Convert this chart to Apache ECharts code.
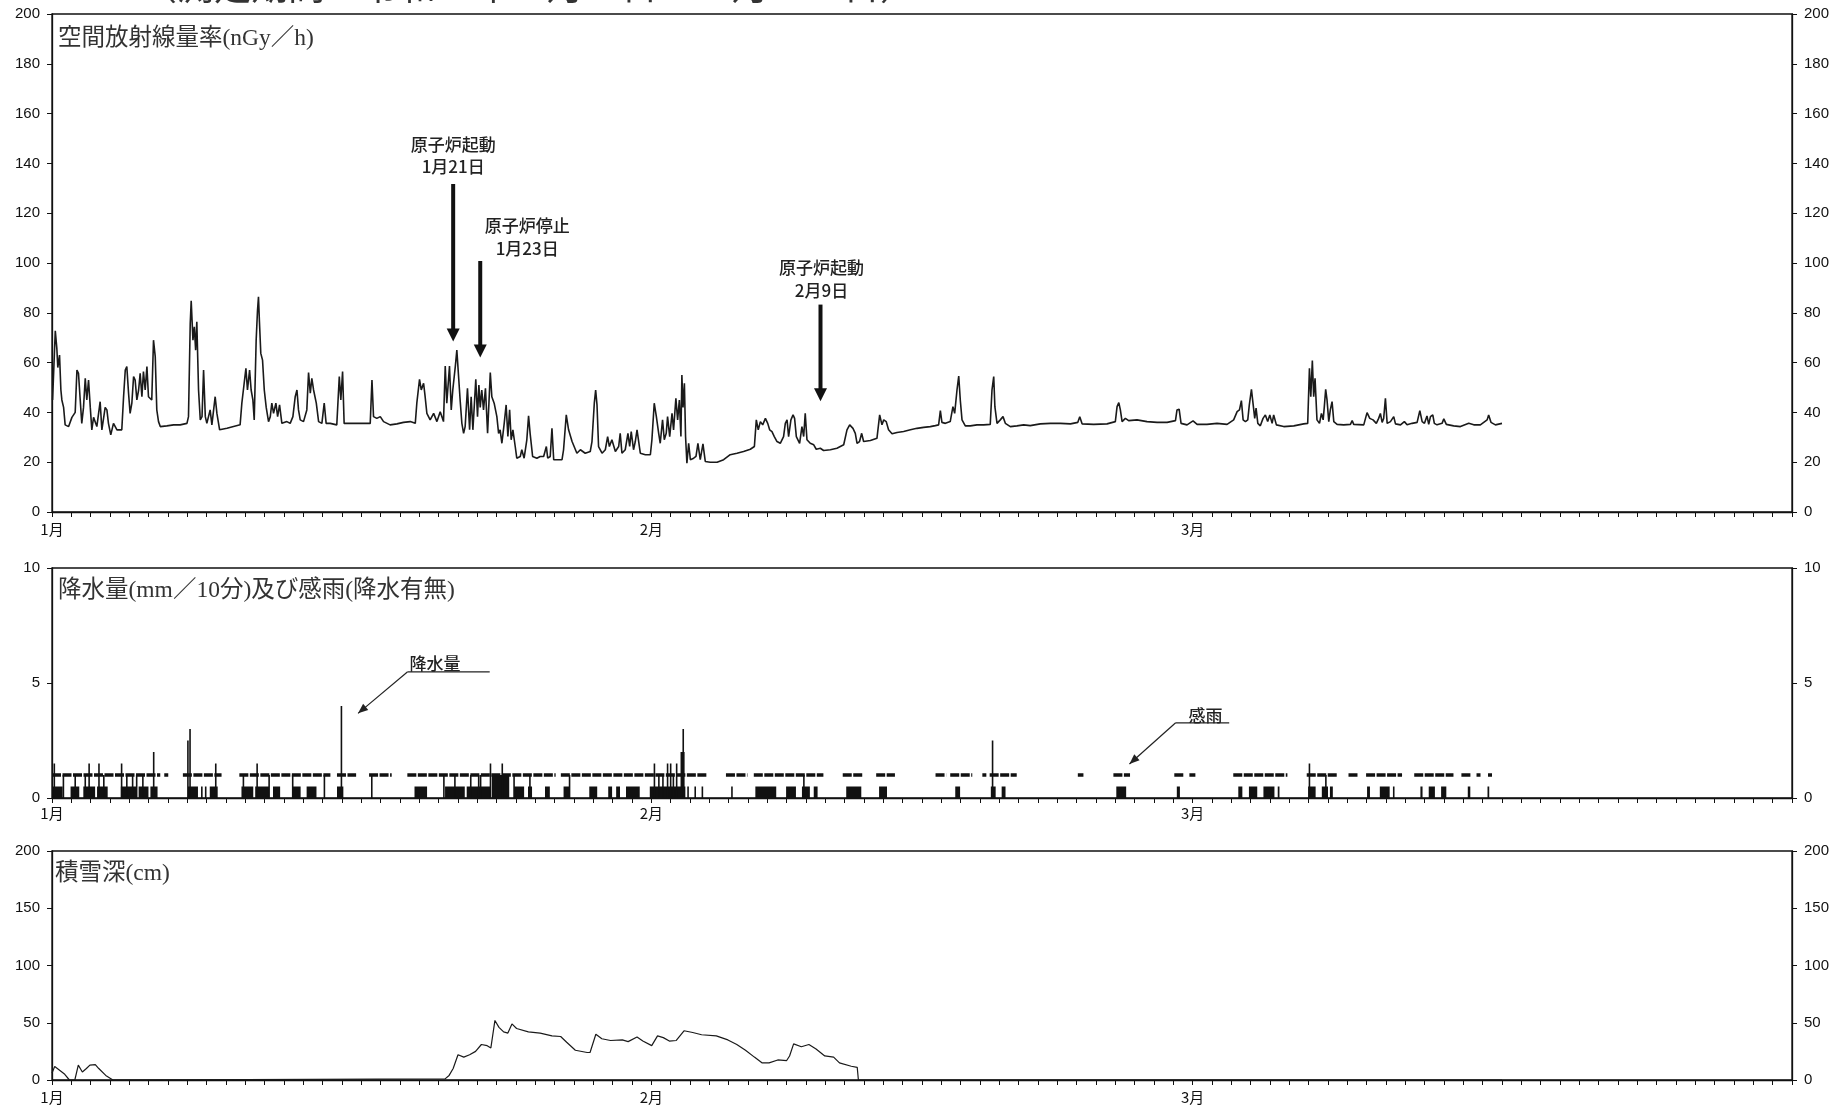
<!DOCTYPE html>
<html><head><meta charset="utf-8">
<script src="https://cdn.jsdelivr.net/npm/echarts@6/dist/echarts.min.js"></script>
<style>html,body{margin:0;padding:0;background:#fff;overflow:hidden}#c{width:1845px;height:1111px}</style>
</head><body><div id="c"></div>
<script>
// ---- axis / category info (days counted from 1月1日 0:00) ----
const monthTicks = [0, 31, 59];
const monthLabels = ['1月', '2月', '3月'];
const headerText = '（測定期間：令和６年１月１日～３月１６日）';

// ---- 空間放射線量率 (nGy/h) ----
const radDay = [0.03,0.17,0.25,0.30,0.39,0.46,0.51,0.60,0.68,0.86,1.03,1.20,1.29,1.37,1.46,1.54,1.63,1.72,1.80,1.89,1.98,2.06,2.15,2.32,2.49,2.58,2.75,2.84,2.92,3.04,3.18,3.36,3.61,3.70,3.79,3.87,3.96,4.04,4.13,4.22,4.30,4.39,4.48,4.56,4.65,4.73,4.82,4.91,4.99,5.16,5.25,5.34,5.42,5.51,5.60,5.94,6.29,6.63,6.98,7.06,7.15,7.20,7.29,7.36,7.43,7.49,7.58,7.67,7.76,7.84,7.93,8.01,8.18,8.27,8.44,8.53,8.67,9.05,9.39,9.73,9.82,9.94,10.03,10.11,10.22,10.30,10.39,10.46,10.56,10.63,10.68,10.73,10.80,10.89,10.98,11.08,11.20,11.29,11.37,11.46,11.58,11.67,11.77,11.89,12.15,12.32,12.46,12.58,12.67,12.75,12.84,13.01,13.18,13.27,13.36,13.44,13.53,13.67,13.79,13.96,14.08,14.18,14.39,14.73,14.86,14.94,15.03,15.11,15.42,15.94,16.46,16.55,16.63,16.80,16.98,17.15,17.49,17.84,18.18,18.53,18.79,18.87,19.01,19.10,19.22,19.30,19.39,19.56,19.74,19.91,20.08,20.25,20.34,20.42,20.56,20.65,20.73,20.86,20.94,21.03,21.11,21.20,21.29,21.37,21.49,21.60,21.68,21.77,21.86,21.92,22.01,22.08,22.15,22.23,22.32,22.42,22.53,22.67,22.75,22.87,23.01,23.10,23.18,23.27,23.39,23.49,23.58,23.67,23.75,23.84,23.96,24.04,24.22,24.30,24.42,24.56,24.65,24.73,24.86,25.08,25.25,
25.43,25.57,25.64,25.77,25.86,25.95,26.38,26.46,26.60,26.72,26.90,27.15,27.33,27.58,27.84,27.93,28.05,28.12,28.19,28.27,28.45,28.62,28.74,28.83,28.96,29.14,29.31,29.39,29.48,29.65,29.79,29.88,29.96,30.08,30.17,30.26,30.34,30.43,30.69,30.95,31.03,31.15,31.26,31.38,31.46,31.58,31.67,31.77,31.84,31.95,32.07,32.15,32.27,32.36,32.45,32.53,32.58,32.64,32.71,32.77,32.84,32.93,33.02,33.19,33.31,33.41,33.53,33.67,33.79,34.05,34.40,34.74,35.08,35.43,35.77,36.12,36.33,36.43,36.53,36.64,36.76,36.90,37.02,37.12,37.24,37.36,37.50,37.67,37.84,37.93,38.02,38.10,38.22,38.33,38.41,38.50,38.67,38.79,38.88,38.96,39.05,39.22,39.40,39.53,39.74,39.91,40.26,40.60,40.95,41.12,41.26,41.43,41.55,41.64,41.77,41.88,41.98,42.33,42.67,42.81,42.93,43.02,43.15,43.27,43.45,43.71,44.05,44.40,44.74,45.08,45.43,45.69,45.86,45.95,46.03,46.21,46.46,46.60,46.69,46.81,46.90,46.98,47.07,47.24,47.50,47.84,48.19,48.53,48.62,48.71,48.77,48.88,49.05,49.19,49.31,49.57,49.91,50.26,50.60,
51.12,51.64,52.16,52.68,53.06,53.16,53.28,53.88,54.57,55.00,55.09,55.18,55.26,55.35,55.52,55.69,56.12,56.64,57.16,57.68,58.11,58.19,58.30,58.40,58.71,59.02,59.23,59.74,60.26,60.78,61.12,61.30,61.42,61.52,61.61,61.73,61.85,61.93,62.04,62.12,62.21,62.28,62.37,62.50,62.64,62.76,62.88,62.99,63.11,63.19,63.33,63.71,64.23,64.74,64.95,65.04,65.11,65.19,65.26,65.33,65.43,65.56,65.66,65.75,65.81,65.88,65.95,66.04,66.12,66.21,66.30,66.47,66.81,67.16,67.25,67.33,67.85,68.02,68.16,68.33,68.50,68.62,68.71,68.80,68.88,68.97,69.06,69.23,69.40,69.49,69.75,69.95,70.09,70.35,70.61,70.75,70.87,70.99,71.12,71.21,71.30,71.42,71.50,71.64,71.90,71.99,72.12,72.50,72.85,73.28,73.54,73.88,74.23,74.31,74.43,74.66,75.00];
const radVal = [45,72.8,65.7,58,63,49,45,42,35,34.3,38,40,57,55.7,45,35.6,42,53.7,45,53,42,33,38,34.3,44.3,33,42,41,35.6,31,35.6,33,33,46,57,58.4,47.7,39.6,43.7,54.4,53,45,49,55.7,46.3,56.4,49,58.4,46.3,45,69,62.4,41,36.3,34.3,34.6,35,35,35.6,38.3,75.7,84.8,69,74.4,65,76.4,49,37,38.3,57,38.3,35.6,41,35,46.3,39.6,33,33.6,34.3,35,43.7,51.7,57.7,49,57,49,45,37,69,81,86.4,76.4,63.7,61,49,42,36.3,38.3,43.7,39.6,43.7,38.3,43,35.6,36.3,35.6,38.3,46.3,49,41,37,36.3,41,56,47.7,53.7,49,43.7,36.3,35.6,43.7,35.6,35.6,35,54.4,45,56.4,35.6,35.6,35.6,35.6,53,38.3,37.6,38.3,36.3,35,35.4,36,36.3,35.6,43.7,53.3,49,51.7,46.3,39.6,37,39.6,36.3,40.3,36.3,58.6,43.7,58.6,41,49,58.4,65,54.4,45,35.6,31.6,34.3,49.7,33,46.3,33,45,53.3,38.3,51,42,49,41,49.7,31.6,56,46.3,43.7,38.3,31.6,33,27.6,35.6,43,30.3,41,29,33,26.3,21.6,22.3,25,21.6,29,38.6,31.6,22.3,21.6,22.3,
22.3,26.3,21.6,22.3,33.6,21,21,25,39,33,28.3,23.6,25,23.6,24.3,28.3,43.7,49,43,26.3,23.6,25,30.3,26.3,29,24.3,26.3,31.6,23.6,25,31.6,26.3,32.3,25,28.3,33,33.6,23.6,23,23,29,43.7,38.3,31.6,27.6,37,29,31.6,38.3,30.3,39.6,33,45.7,37,45,30.3,55,42,51.7,30.3,19.6,27.6,21,21.6,22.3,27.6,21,27.4,20.3,20,20,21,23,23.6,24.3,25.2,26.3,37,33,36.3,35,37.6,35.6,33,32.3,30.3,28.3,27.6,30.3,35.6,37,30.3,37,39,37.6,30.3,27.6,34.3,30.3,39.6,29,27.6,27,25.2,25.6,24.7,25,25.6,27,33,35,33.6,31.6,27.6,28.3,31.6,28.3,28.7,29.6,39,35,37,36.3,33,31.4,31.9,32.3,33,33.6,34,34.3,34.7,35,40.7,36,35.6,36.3,42.3,39.6,49,54.6,45,37,34.6,34.6,35,35,35.2,49,54.4,42.3,35.6,37,38.3,35.6,34.3,34.6,35,34.7,
35.4,35.6,35.6,35.4,36,38.3,35.4,35.2,35.4,36.3,42.3,43.9,41,36.3,37.6,36.7,37,36.3,36,36,36.7,41,41.3,35.6,35,36.6,35.2,35.2,35.6,35.2,37,40.3,41,44.7,37,36.3,37,43,49.3,43.7,37.6,41.7,35.6,34.6,37.6,39,36.3,39,35.6,39,35,34.3,34.6,35.4,35.6,57.7,46.3,60.8,46.3,53.7,37,35.6,39.6,37,42.3,49.3,45,36.3,41,44.3,36.3,35.2,35,35.2,36.7,35.2,35,39.9,37.6,37,35.6,37.6,39.6,36,37.6,45.7,35.6,36.3,38.3,35.4,35,36.3,35,35.6,36,40.7,36.3,35.6,38.6,35.2,38.3,39,35.6,35,35.6,37.4,35.2,34.6,34.3,35.6,35,35,37,39,36,35,35.6];

// ---- 降水量 (mm/10分): [from day, to day, mm] ----
const rainBars = [
 [0.04,0.55,0.5],[0.12,0.12,1.5],[0.59,0.59,1.0],[0.96,1.41,0.5],[1.20,1.20,1.0],[1.62,2.23,0.5],[1.72,1.72,1.0],[1.92,1.92,1.5],
 [2.33,2.88,0.5],[2.43,2.43,1.5],[2.68,2.68,1.0],[3.56,4.38,0.5],[3.60,3.60,1.5],[3.87,3.87,1.0],[4.17,4.17,1.0],[4.38,4.38,1.0],
 [4.48,4.99,0.5],[4.70,4.70,1.0],[5.09,5.46,0.5],[5.26,5.26,2.0],[7.03,7.55,0.5],[7.03,7.03,2.5],[7.14,7.14,3.0],[7.75,7.75,0.5],
 [7.95,7.95,0.5],[8.16,8.57,0.5],[8.47,8.47,1.5],[9.80,10.41,0.5],[9.90,9.90,1.0],[10.51,11.23,0.5],[10.61,10.61,1.5],[11.23,11.23,1.0],
 [11.43,11.80,0.5],[12.45,12.86,0.5],[12.45,12.45,1.0],[13.17,13.68,0.5],[14.09,14.09,1.0],[14.74,15.07,0.5],[14.97,14.97,4.0],
 [16.54,16.54,1.0],[18.75,19.40,0.5],[20.27,20.27,1.0],[20.33,21.35,0.5],[20.84,20.84,1.0],[21.45,22.68,0.5],[21.66,21.66,1.0],
 [22.07,22.07,1.0],[22.17,22.17,1.0],[22.75,23.65,1.0],[22.68,22.68,1.5],[23.29,23.29,1.5],[23.90,24.42,0.5],[23.90,23.90,1.0],
 [24.62,24.83,0.5],[24.72,24.72,1.0],[25.50,25.75,0.5],[26.46,26.77,0.5],[26.77,26.77,1.0],[27.79,28.20,0.5],[28.77,28.97,0.5],
 [29.18,29.38,0.5],[29.69,30.40,0.5],[30.92,32.76,0.5],[31.16,31.16,1.5],[31.39,31.39,1.0],[31.60,31.60,1.0],[31.84,31.84,1.5],
 [32.00,32.00,1.5],[32.14,32.14,1.0],[32.31,32.31,1.5],[32.51,32.72,2.0],[32.65,32.65,3.0],[32.90,32.90,0.5],[33.27,33.27,0.5],
 [33.64,33.64,0.5],[35.17,35.17,0.5],[36.38,37.46,0.5],[37.97,38.48,0.5],[38.79,39.20,0.5],[38.89,38.89,1.0],[39.40,39.60,0.5],
 [41.08,41.86,0.5],[42.78,43.19,0.5],[46.72,46.97,0.5],[48.56,48.81,0.5],[48.65,48.65,2.5],[49.12,49.32,0.5],[55.05,55.56,0.5],
 [58.18,58.34,0.5],[61.36,61.57,0.5],[61.91,62.34,0.5],[62.66,63.23,0.5],[63.40,63.49,0.5],[64.97,65.36,0.5],[65.04,65.04,1.5],
 [65.68,66.00,0.5],[65.89,65.89,1.0],[66.10,66.25,0.5],[68.02,68.17,0.5],[68.68,69.19,0.5],[69.40,69.40,0.5],[70.78,70.89,0.5],
 [71.21,71.53,0.5],[71.85,72.12,0.5],[73.23,73.36,0.5],[74.25,74.34,0.5]];

// ---- 感雨 (降水有無 = 1): [from day, to day] ----
const senseRain = [[0,5.6],[5.87,5.95],[6.77,8.77],[9.69,14.4],[14.74,15.73],[16.4,17.57],[18.38,26.05],[26.32,33.88],[34.86,35.97],
 [36.3,39.9],[40.9,41.96],[42.63,43.6],[45.7,46.25],[46.46,47.6],[48.15,48.3],[48.5,49.9],[53.06,53.35],[54.9,55.76],[58.05,58.52],
 [58.83,59.14],[61.1,63.9],[64.9,66.46],[67.06,67.6],[67.97,69.83],[70.46,72.49],[72.9,73.44],[73.7,73.87],[74.3,74.46]];

// ---- 積雪深 (cm) ----
const snowDay = [0,0.14,0.36,0.66,0.9,1.18,1.36,1.57,1.78,1.96,2.24,2.42,2.78,3.15,20.33,20.54,20.75,21.0,21.3,21.6,21.91,22.21,22.51,22.7,22.91,23.12,23.36,23.58,23.79,24.03,24.64,25.25,25.86,26.31,26.62,27.07,27.68,27.83,28.13,28.44,28.89,29.5,29.8,30.26,30.56,31.02,31.32,31.62,31.93,32.29,32.69,33.14,33.6,34.36,34.96,35.42,35.87,36.33,36.72,37.09,37.54,38.0,38.15,38.36,38.76,39.15,39.52,39.97,40.43,40.73,41.34,41.65,41.71,75];
const snowCm = [6,11.7,9,5,0,0,13,7,10,13,13.5,10,4,0,1,4,10,22,20,22,25,31,30,28,52,46,42,41,49,45,42,41,38.5,38,33,26,24,24,40,36,34.5,35,33.5,37.5,34,30,38.5,37,34,34.5,43,41.5,39.5,38.5,35,31,26,20,15,15,17.5,17,21,31.5,29,31,27,21,20,15,12,11,0,0];

// ---- annotations (in data units) ----
const reactorEvents = [
 {title:'原子炉起動', date:'1月21日', day:20.75, tail:131.7, tip:68.5, textDay:20.75, textVal:[147.4,138.6]},
 {title:'原子炉停止', date:'1月23日', day:22.15, tail:100.8, tip:62.0, textDay:24.58, textVal:[115.0,106.0]},
 {title:'原子炉起動', date:'2月9日', day:39.75, tail:83.3, tip:44.5, textDay:39.8, textVal:[98.0,89.0]}
];
const rainNotes = [
 {text:'降水量', textDay:19.81, textVal:5.85, lineFrom:18.38, lineTo:22.64, lineVal:5.48, tipDay:15.83, tipVal:3.68},
 {text:'感雨', textDay:59.66, textVal:3.6, lineFrom:58.12, lineTo:60.89, lineVal:3.27, tipDay:55.73, tipVal:1.48}
];

const chart = echarts.init(document.getElementById('c'), null, {renderer:'canvas'});
const LBL = "'Liberation Sans', Arial, sans-serif";
const SERIF = "'Liberation Serif','DejaVu Serif','Noto Sans CJK JP',serif";
const JP = "'Noto Sans CJK JP', sans-serif";

const grids = [
  {left:52, right:53, top:14, height:498},
  {left:52, right:53, top:568, height:230},
  {left:52, right:53, top:851, height:229}
].map(g => Object.assign({show:true, borderColor:'#111', borderWidth:1.3, backgroundColor:'transparent'}, g));

function xAxis(i, margin){
  return {type:'value', gridIndex:i, min:0, max:90, interval:1,
    axisLine:{show:true, lineStyle:{color:'#111', width:1.3}},
    axisTick:{show:true, length:5, lineStyle:{color:'#111'}},
    splitLine:{show:false},
    axisLabel:{margin:margin, fontSize:15, color:'#111', fontFamily:JP,
      formatter: v => { const k = monthTicks.indexOf(v); return k >= 0 ? monthLabels[k] : ''; }}};
}
function yAxis(i, pos, max, interval){
  return {type:'value', gridIndex:i, position:pos, min:0, max:max, interval:interval,
    axisLine:{show:true, lineStyle:{color:'#111', width:1.3}},
    axisTick:{show:true, length:5, lineStyle:{color:'#111'}},
    splitLine:{show:false},
    axisLabel:{margin:12, fontSize:15, color:'#111', fontFamily:LBL}};
}

chart.setOption({
  animation:false,
  backgroundColor:'#fff',
  grid: grids,
  xAxis:[xAxis(0,10), xAxis(1,8), xAxis(2,10)],
  yAxis:[yAxis(0,'left',200,20), yAxis(0,'right',200,20), yAxis(1,'left',10,5), yAxis(1,'right',10,5), yAxis(2,'left',200,50), yAxis(2,'right',200,50)],
  series:[
    {type:'line', xAxisIndex:0, yAxisIndex:0, showSymbol:false, symbol:'none',
      data: radDay.map((d,i)=>[d, radVal[i]]), lineStyle:{color:'#1a1a1a', width:1.6}},
    {type:'custom', xAxisIndex:1, yAxisIndex:2, data: rainBars, encode:{x:[0,1], y:2},
      renderItem:(params, api) => {
        const p0 = api.coord([api.value(0), api.value(2)]);
        const p1 = api.coord([api.value(1), 0]);
        let x = p0[0], w = p1[0] - p0[0];
        if (w < 1.6) { x -= (1.6 - w)/2; w = 1.6; }
        return {type:'rect', shape:{x:x, y:p0[1], width:w, height:p1[1]-p0[1]}, style:{fill:'#111'}};
      }},
    {type:'custom', xAxisIndex:1, yAxisIndex:2, data: senseRain.map(s => [s[0], s[1], 1]), encode:{x:[0,1], y:2},
      renderItem:(params, api) => {
        const a = api.coord([api.value(0), 1]);
        const b = api.coord([api.value(1), 1]);
        let x1 = a[0], x2 = b[0];
        if (x2 - x1 < 4) { const m = (x1+x2)/2; x1 = m-2; x2 = m+2; }
        return {type:'line', shape:{x1:x1, y1:a[1], x2:x2, y2:a[1]}, style:{stroke:'#111', lineWidth:3.5, lineDash:[9,1.5]}};
      }},
    {type:'line', xAxisIndex:2, yAxisIndex:4, showSymbol:false, symbol:'none',
      data: snowDay.map((d,i)=>[d, snowCm[i]]), lineStyle:{color:'#1a1a1a', width:1.2}}
  ]
});

// ---- annotations placed via the axes ----
const g = [];
const P = (gi, d, v) => chart.convertToPixel({xAxisIndex:gi, yAxisIndex:gi*2}, [d, v]);

// chart section titles
g.push({type:'text', left:58, top:27, style:{text:'空間放射線量率(nGy／h)', font:'23.5px ' + SERIF, fill:'#333'}});
g.push({type:'text', left:58, top:579, style:{text:'降水量(mm／10分)及び感雨(降水有無)', font:'23.5px ' + SERIF, fill:'#333'}});
g.push({type:'text', left:55, top:862, style:{text:'積雪深(cm)', font:'23.5px ' + SERIF, fill:'#333'}});
// cut-off header
g.push({type:'text', left:140, top:-28, style:{text:headerText, font:'37px ' + SERIF, fill:'#333'}});

reactorEvents.forEach(e => {
  const t1 = P(0, e.textDay, e.textVal[0]);
  const t2 = P(0, e.textDay, e.textVal[1]);
  g.push({type:'text', x:t1[0], y:t1[1], style:{text:e.title, font:'500 17px ' + JP, fill:'#222', textAlign:'center', textVerticalAlign:'middle'}});
  g.push({type:'text', x:t2[0], y:t2[1], style:{text:e.date, font:'500 17px ' + JP, fill:'#222', textAlign:'center', textVerticalAlign:'middle'}});
  const a = P(0, e.day, e.tail), b = P(0, e.day, e.tip);
  g.push({type:'line', shape:{x1:a[0], y1:a[1], x2:b[0], y2:b[1]-10}, style:{stroke:'#111', lineWidth:4}});
  g.push({type:'polygon', shape:{points:[[b[0], b[1]], [b[0]-6.5, b[1]-13], [b[0]+6.5, b[1]-13]]}, style:{fill:'#111'}});
});

rainNotes.forEach(n => {
  const t = P(1, n.textDay, n.textVal);
  const l1 = P(1, n.lineFrom, n.lineVal), l2 = P(1, n.lineTo, n.lineVal);
  const tip = P(1, n.tipDay, n.tipVal);
  g.push({type:'text', x:t[0], y:t[1], style:{text:n.text, font:'500 17px ' + JP, fill:'#222', textAlign:'center', textVerticalAlign:'middle'}});
  g.push({type:'line', shape:{x1:l1[0], y1:l1[1], x2:l2[0], y2:l2[1]}, style:{stroke:'#222', lineWidth:1.2}});
  g.push({type:'line', shape:{x1:l1[0], y1:l1[1], x2:tip[0], y2:tip[1]}, style:{stroke:'#222', lineWidth:1.2}});
  const ang = Math.atan2(tip[1]-l1[1], tip[0]-l1[0]);
  const L = 10, W = 4;
  const bx = tip[0] - L*Math.cos(ang), by = tip[1] - L*Math.sin(ang);
  g.push({type:'polygon', shape:{points:[[tip[0], tip[1]], [bx + W*Math.sin(ang), by - W*Math.cos(ang)], [bx - W*Math.sin(ang), by + W*Math.cos(ang)]]}, style:{fill:'#222'}});
});

chart.setOption({graphic: g});
</script>
</body></html>
